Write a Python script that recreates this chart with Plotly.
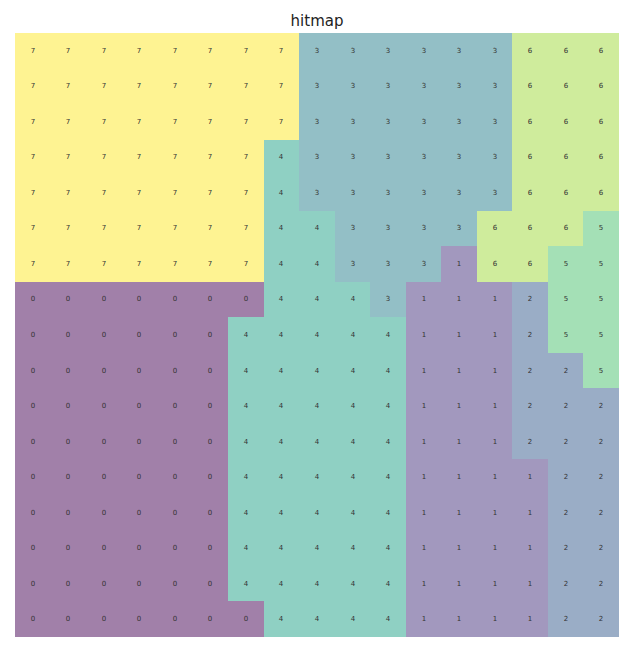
import plotly.graph_objects as go

title_text = "hitmap"

grid = [
    [7,7,7,7,7,7,7,7,3,3,3,3,3,3,6,6,6],
    [7,7,7,7,7,7,7,7,3,3,3,3,3,3,6,6,6],
    [7,7,7,7,7,7,7,7,3,3,3,3,3,3,6,6,6],
    [7,7,7,7,7,7,7,4,3,3,3,3,3,3,6,6,6],
    [7,7,7,7,7,7,7,4,3,3,3,3,3,3,6,6,6],
    [7,7,7,7,7,7,7,4,4,3,3,3,3,6,6,6,5],
    [7,7,7,7,7,7,7,4,4,3,3,3,1,6,6,5,5],
    [0,0,0,0,0,0,0,4,4,4,3,1,1,1,2,5,5],
    [0,0,0,0,0,0,4,4,4,4,4,1,1,1,2,5,5],
    [0,0,0,0,0,0,4,4,4,4,4,1,1,1,2,2,5],
    [0,0,0,0,0,0,4,4,4,4,4,1,1,1,2,2,2],
    [0,0,0,0,0,0,4,4,4,4,4,1,1,1,2,2,2],
    [0,0,0,0,0,0,4,4,4,4,4,1,1,1,1,2,2],
    [0,0,0,0,0,0,4,4,4,4,4,1,1,1,1,2,2],
    [0,0,0,0,0,0,4,4,4,4,4,1,1,1,1,2,2],
    [0,0,0,0,0,0,4,4,4,4,4,1,1,1,1,2,2],
    [0,0,0,0,0,0,0,4,4,4,4,1,1,1,1,2,2],
]

# viridis at 8 levels, blended 50% with white
level_colors = ["#a180a9", "#a298be", "#9aadc6", "#93bfc6",
                "#8fd0c3", "#a4e0b6", "#cfec9c", "#fef392"]

n = len(level_colors)
colorscale = []
for i, c in enumerate(level_colors):
    colorscale.append([i / n, c])
    colorscale.append([(i + 1) / n, c])

cols = list(range(len(grid[0])))
rows = list(range(len(grid)))

fig = go.Figure(go.Heatmap(
    z=grid,
    x=cols,
    y=rows,
    zmin=-0.5,
    zmax=7.5,
    colorscale=colorscale,
    showscale=False,
    text=grid,
    texttemplate="%{text}",
    textfont=dict(family="DejaVu Sans", size=7, color="#333333"),
    hoverinfo="skip",
))

fig.update_layout(
    width=637,
    height=650,
    margin=dict(l=15, r=18, t=33, b=13),
    paper_bgcolor="white",
    plot_bgcolor="white",
    title=dict(text=title_text, x=0.4977, xanchor="center", y=0.968, yanchor="middle",
               font=dict(family="DejaVu Sans", size=15, color="#222222")),
    xaxis=dict(visible=False, range=[-0.5, 16.5], fixedrange=True),
    yaxis=dict(visible=False, range=[16.5, -0.5], fixedrange=True),
)

fig.write_html("out.html")
